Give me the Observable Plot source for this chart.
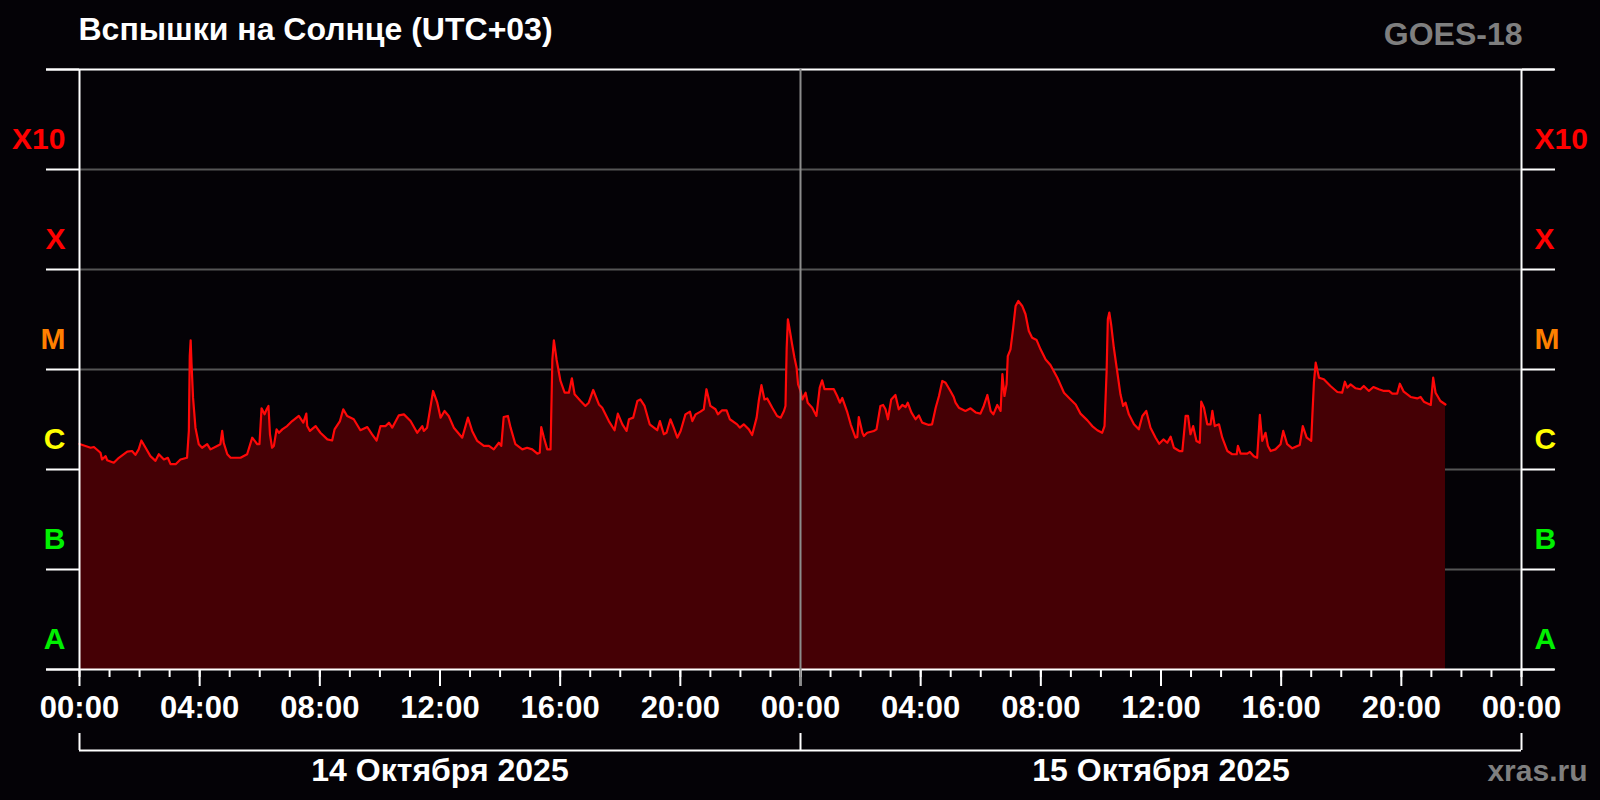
<!DOCTYPE html>
<html>
<head>
<meta charset="utf-8">
<script src="https://cdn.jsdelivr.net/npm/d3@7"></script>
<script src="https://cdn.jsdelivr.net/npm/@observablehq/plot@0.6"></script>
<style>
  html, body { margin: 0; padding: 0; background: #040206; }
  #chart { width: 1600px; height: 800px; }
</style>
</head>
<body>
<div id="chart"></div>
<script>
// ---- Data ----
// Hours since 14 Oct 2025 00:00 (UTC+03)
const hours = [
  0.00,0.20,0.37,0.48,0.70,0.75,0.87,0.92,1.14,1.31,1.59,1.75,1.86,1.97,2.06,2.20,2.36,2.53,2.64,2.81,
  2.94,3.03,3.20,3.36,3.58,3.64,3.67,3.70,3.73,3.78,3.86,3.97,4.08,4.25,4.36,4.58,4.69,4.75,4.80,4.92,
  5.03,5.36,5.58,5.75,5.92,5.99,6.06,6.16,6.23,6.29,6.34,6.41,6.47,6.56,6.64,6.75,6.91,7.08,7.30,7.45,
  7.55,7.58,7.67,7.86,8.02,8.25,8.41,8.49,8.67,8.78,8.91,9.13,9.35,9.58,9.74,9.89,10.02,10.19,10.30,10.41,
  10.63,10.80,11.02,11.24,11.41,11.46,11.57,11.77,11.91,12.02,12.15,12.29,12.46,12.74,12.93,13.07,13.24,13.46,13.63,13.79,
  13.96,14.04,14.12,14.26,14.35,14.51,14.74,14.90,15.07,15.24,15.32,15.37,15.46,15.57,15.68,15.74,15.79,15.88,16.01,16.15,
  16.29,16.39,16.48,16.68,16.84,16.95,17.10,17.29,17.40,17.62,17.81,17.92,18.07,18.21,18.29,18.43,18.57,18.67,18.81,18.98,
  19.23,19.32,19.45,19.54,19.67,19.78,19.90,20.01,20.17,20.32,20.40,20.51,20.67,20.78,20.87,21.00,21.17,21.25,21.39,21.54,
  21.65,21.89,21.98,22.11,22.28,22.39,22.54,22.61,22.70,22.80,22.89,23.06,23.22,23.34,23.45,23.50,23.54,23.58,23.62,23.72,
  23.80,23.87,23.92,24.00,24.06,24.17,24.24,24.39,24.53,24.64,24.72,24.80,24.94,25.11,25.22,25.31,25.39,25.56,25.67,25.83,
  25.89,25.94,26.06,26.11,26.22,26.44,26.53,26.66,26.75,26.83,26.91,27.02,27.16,27.27,27.39,27.50,27.57,27.69,27.83,27.94,
  28.05,28.27,28.38,28.50,28.61,28.72,28.83,28.99,29.10,29.16,29.27,29.49,29.66,29.83,29.99,30.10,30.22,30.33,30.42,30.55,
  30.66,30.72,30.79,30.86,30.90,30.99,31.08,31.16,31.25,31.38,31.49,31.60,31.71,31.86,31.99,32.16,32.32,32.55,32.77,32.99,
  33.16,33.32,33.55,33.71,33.88,34.04,34.12,34.19,34.23,34.28,34.34,34.43,34.54,34.65,34.74,34.82,34.93,35.10,35.26,35.38,
  35.51,35.65,35.82,35.94,36.08,36.21,36.32,36.43,36.61,36.71,36.82,36.90,36.98,37.07,37.18,37.29,37.34,37.43,37.54,37.65,
  37.71,37.79,37.93,38.04,38.21,38.37,38.52,38.56,38.65,38.87,38.96,39.09,39.20,39.29,39.37,39.48,39.56,39.65,39.81,39.98,
  40.07,40.20,40.37,40.54,40.62,40.72,40.85,41.00,41.04,41.09,41.15,41.26,41.42,41.64,41.87,42.03,42.12,42.20,42.31,42.48,
  42.64,42.75,42.92,43.07,43.25,43.42,43.59,43.70,43.86,43.95,44.08,44.31,44.53,44.64,44.75,44.98,45.06,45.14,45.30,45.47
];
// X-ray flux, in units of 1e-6 W/m^2
const fluxMicro = [
  1.80,1.72,1.65,1.68,1.47,1.26,1.36,1.24,1.17,1.31,1.51,1.53,1.40,1.59,1.95,1.65,1.36,1.22,1.42,1.26,
  1.31,1.13,1.13,1.26,1.31,2.43,13.6,19.6,11.3,5.2,2.62,1.79,1.65,1.79,1.59,1.72,1.79,2.43,1.85,1.42,
  1.31,1.31,1.42,2.08,1.79,1.79,4.09,3.56,4.00,4.32,2.25,1.65,1.72,2.52,2.33,2.52,2.72,3.05,3.43,2.94,
  3.62,2.72,2.43,2.72,2.33,2.00,1.95,2.52,3.05,4.00,3.43,3.18,2.47,2.66,2.25,1.95,2.72,2.72,2.94,2.62,
  3.48,3.56,3.05,2.33,2.72,2.43,2.62,6.10,4.66,3.30,3.85,3.43,2.62,2.08,3.30,2.43,1.93,1.72,1.72,1.59,
  1.85,1.72,3.35,3.43,2.62,1.79,1.59,1.65,1.59,1.44,1.47,2.66,2.08,1.59,1.59,12.6,19.6,12.6,7.68,5.86,
  5.86,8.17,5.65,4.84,4.32,4.66,6.24,4.47,4.15,3.05,2.47,3.62,2.83,2.43,3.18,3.30,4.84,5.02,4.32,2.83,
  2.47,3.05,2.25,2.33,3.18,2.62,2.08,2.43,3.56,3.79,3.05,3.56,3.79,4.00,6.35,4.32,4.00,3.56,3.91,3.91,
  3.18,2.83,2.62,2.83,2.52,2.21,3.30,4.84,6.98,5.02,5.14,4.15,3.43,3.30,3.85,4.32,16.5,31.8,27.2,17.9,
  13.1,10.4,7.10,6.10,5.02,5.86,4.66,4.15,3.43,6.58,7.80,6.35,6.35,6.35,5.43,4.66,5.20,3.72,2.83,2.08,
  2.11,3.35,2.33,2.16,2.33,2.43,2.52,4.32,4.42,4.00,3.18,5.02,5.56,4.00,4.42,4.22,4.66,3.72,3.18,3.48,
  2.94,2.79,2.83,4.15,5.43,7.68,7.38,6.10,5.31,4.66,4.15,3.85,4.09,3.72,3.62,4.32,5.56,3.85,3.56,4.42,
  3.85,8.97,5.43,7.10,13.6,15.9,26.2,43.2,48.4,43.2,35.7,24.3,20.8,19.7,15.9,12.6,11.1,8.28,5.86,5.02,
  4.47,3.62,3.10,2.72,2.47,2.33,2.72,9.66,31.8,37.1,28.2,16.5,9.66,5.65,4.32,4.66,3.56,2.83,2.52,3.43,
  3.85,2.62,2.08,1.81,2.00,1.85,2.13,1.65,1.53,1.53,3.43,3.43,2.25,2.72,1.93,1.85,4.77,4.15,2.83,2.83,
  3.85,2.72,2.83,2.08,1.53,1.42,1.42,1.72,1.44,1.44,1.50,1.36,1.31,3.51,1.93,2.33,1.72,1.53,1.59,1.79,
  2.43,1.79,1.63,1.72,1.76,2.72,2.08,1.93,3.56,7.38,11.7,8.28,7.98,6.84,5.96,5.86,7.55,6.58,7.10,6.49,
  6.35,6.84,6.10,6.68,6.35,6.10,6.10,5.73,5.73,7.21,6.00,5.31,5.14,5.31,4.77,4.42,8.28,5.86,4.84,4.47
];
// Flare classes (lower decade bound, W/m^2) and their label colours
const classNames  = ["A", "B", "C", "M", "X", "X10"];
const classBounds = [1e-8, 1e-7, 1e-6, 1e-5, 1e-4, 1e-3];
const classColors = ["#00f000", "#00f000", "#ffff00", "#ff8000", "#ff0000", "#ff0000"];
const decades = [1e-8, 1e-7, 1e-6, 1e-5, 1e-4, 1e-3, 1e-2];
const dayNames = ["14 Октября 2025", "15 Октября 2025"];
const titleText = "Вспышки на Солнце (UTC+03)";
const satText = "GOES-18";
const siteText = "xras.ru";

// ---- Build ----
const start = Date.UTC(2025, 9, 14);
const toDate = h => new Date(start + h * 3600e3);
const data = hours.map((h, i) => ({date: toDate(h), flux: fluxMicro[i] * 1e-6}));
const classLabels = classNames.map((c, i) => ({label: c, value: classBounds[i] * 2, color: classColors[i]}));
const hourTicks = d3.range(0, 49).map(toDate);
const majorTicks = d3.range(0, 49, 4).map(toDate);
const dayLabels = dayNames.map((d, i) => ({label: d, date: toDate(i * 24 + 12)}));
const inner = decades.slice(1, -1);
const edges = [decades[0], decades[decades.length - 1]];
const fmt = d3.utcFormat("%H:%M");
const font = "'Liberation Sans', Arial, Helvetica, sans-serif";

const chart = Plot.plot({
  width: 1600,
  height: 800,
  marginLeft: 79,
  marginRight: 79,
  marginTop: 69,
  marginBottom: 131,
  style: {background: "#040206", fontFamily: font, fontWeight: "bold", color: "white", overflow: "visible"},
  x: {type: "utc", domain: [toDate(0), toDate(48)], label: null},
  y: {type: "log", domain: [decades[0], decades[decades.length - 1]], label: null},
  color: {type: "identity"},
  marks: [
    Plot.ruleY(inner, {stroke: "#555555", strokeWidth: 2}),
    Plot.area(data, {x1: "date", y1: decades[0], y2: "flux", fill: "#450005"}),
    Plot.line(data, {x: "date", y: "flux", stroke: "#ff0808", strokeWidth: 2.2}),
    Plot.axisY(decades, {anchor: "left", tickSize: 33, tickFormat: () => "", color: "white", strokeWidth: 2}),
    Plot.axisY(decades, {anchor: "right", tickSize: 33, tickFormat: () => "", color: "white", strokeWidth: 2}),
    Plot.ruleY(edges, {stroke: "white", strokeWidth: 2, insetLeft: -33, insetRight: -33}),
    Plot.ruleX([toDate(0), toDate(48)], {stroke: "white", strokeWidth: 2}),
    Plot.axisX(hourTicks, {anchor: "bottom", tickSize: 8, tickFormat: () => "", color: "white", strokeWidth: 2}),
    Plot.axisX(majorTicks, {anchor: "bottom", tickSize: 17, tickPadding: 9, tickFormat: fmt,
      color: "white", strokeWidth: 2, fontSize: 31, fontWeight: "bold"}),
    Plot.ruleX([toDate(24)], {stroke: "#8c8c8c", strokeWidth: 2, insetBottom: -17}),
    Plot.text(classLabels, {y: "value", text: "label", fill: "color", frameAnchor: "left",
      textAnchor: "end", dx: -14, fontSize: 30, fontWeight: "bold"}),
    Plot.text(classLabels, {y: "value", text: "label", fill: "color", frameAnchor: "right",
      textAnchor: "start", dx: 13, fontSize: 30, fontWeight: "bold"}),
    // date bracket under the axis
    Plot.ruleY([decades[0]], {stroke: "white", strokeWidth: 2, dy: 81}),
    Plot.ruleX([toDate(0), toDate(24), toDate(48)], {stroke: "white", strokeWidth: 2, insetTop: 583, dy: 81}),
    Plot.text(dayLabels, {x: "date", text: "label", frameAnchor: "bottom", lineAnchor: "middle",
      dy: 101, fill: "white", fontSize: 32, fontWeight: "bold"}),
    // title, satellite, site
    Plot.text([titleText], {text: d => d, frameAnchor: "top-left", textAnchor: "start", lineAnchor: "middle",
      dy: -40, dx: -1, fill: "white", fontSize: 32, fontWeight: "bold"}),
    Plot.text([satText], {text: d => d, frameAnchor: "top-right", textAnchor: "end", lineAnchor: "middle",
      dy: -35, dx: 1, fill: "#7f7f7f", fontSize: 32, fontWeight: "bold"}),
    Plot.text([siteText], {text: d => d, frameAnchor: "bottom-right", textAnchor: "end", lineAnchor: "middle",
      dy: 102, dx: 66, fill: "#7f7f7f", fontSize: 30, fontWeight: "bold"})
  ]
});
document.getElementById("chart").appendChild(chart);
</script>
</body>
</html>
